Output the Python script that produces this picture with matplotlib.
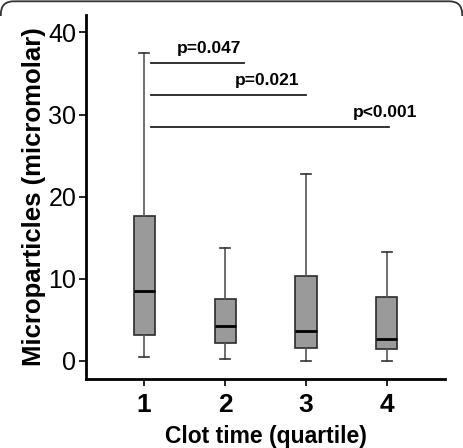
import matplotlib
matplotlib.use("Agg")
import matplotlib.pyplot as plt
from matplotlib.patches import FancyBboxPatch
from matplotlib.transforms import IdentityTransform, Bbox

plt.rcParams["font.family"] = ["Liberation Sans", "DejaVu Sans"]

# 四分位组的箱线图统计
groups = ["1", "2", "3", "4"]
whislo = [0.5, 0.25, 0.05, 0.05]
q1 = [3.1, 2.2, 1.6, 1.4]
med = [8.5, 4.2, 3.7, 2.7]
q3 = [17.7, 7.5, 10.4, 7.8]
whishi = [37.5, 13.8, 22.8, 13.3]

# 显著性标注
sig_x0 = [1.08, 1.08, 1.08]
sig_x1 = [2.23, 3.0, 4.03]
sig_y = [36.3, 32.4, 28.5]
sig_text = ["p=0.047", "p=0.021", "p<0.001"]
sig_tx = [1.80, 2.52, 3.97]

fig = plt.figure(figsize=(4.63, 4.48), dpi=100)
ax = fig.add_axes([0.186, 0.154, 0.775, 0.812])

stats = [
    {"label": g, "whislo": lo, "q1": a, "med": m, "q3": b, "whishi": hi}
    for g, lo, a, m, b, hi in zip(groups, whislo, q1, med, q3, whishi)
]
ax.bxp(
    stats,
    positions=range(1, len(groups) + 1),
    widths=0.26,
    showfliers=False,
    patch_artist=True,
    boxprops=dict(facecolor="#9a9a9a", edgecolor="#2b2b2b", linewidth=1.2),
    medianprops=dict(color="black", linewidth=2.0),
    whiskerprops=dict(color="#555555", linewidth=1.2),
    capprops=dict(color="#333333", linewidth=1.2),
    capwidths=0.12,
)

for x0, x1, y, t, tx in zip(sig_x0, sig_x1, sig_y, sig_text, sig_tx):
    ax.plot([x0, x1], [y, y], color="#222222", linewidth=1.3)
    ax.text(tx, y + 0.8, t, ha="center", va="bottom", fontsize=12.5, fontweight="bold")

ax.set_xlim(0.284, 4.716)
ax.set_ylim(-2.2, 42.1)
ax.set_yticks([0, 10, 20, 30, 40])
ax.set_xticks([1, 2, 3, 4])
ax.set_xticklabels(groups, fontsize=19, fontweight="bold")
ax.tick_params(axis="y", labelsize=18, length=5, width=1.2, pad=2)
ax.tick_params(axis="x", length=5, width=1.2, pad=5)

for s in ["top", "right"]:
    ax.spines[s].set_visible(False)
for s in ["left", "bottom"]:
    ax.spines[s].set_linewidth(2)

ax.set_xlabel("Clot time (quartile)", fontsize=16.5, fontweight="bold", labelpad=6)
ax.set_ylabel("Microparticles (micromolar)", fontsize=18.5, fontweight="bold", labelpad=2)

# 顶部圆角外框（只露出上沿）
W, H = 463, 448
border = FancyBboxPatch((0.8, -30), W - 1.6, H + 28.7,
                        boxstyle="round,pad=0,rounding_size=13",
                        transform=IdentityTransform(), facecolor="none",
                        edgecolor="#333333", linewidth=1.3)
border.set_clip_box(Bbox.from_extents(0, H - 16, W, H))
border.set_clip_on(True)
fig.patches.append(border)

fig.savefig("out.png", dpi=100)
